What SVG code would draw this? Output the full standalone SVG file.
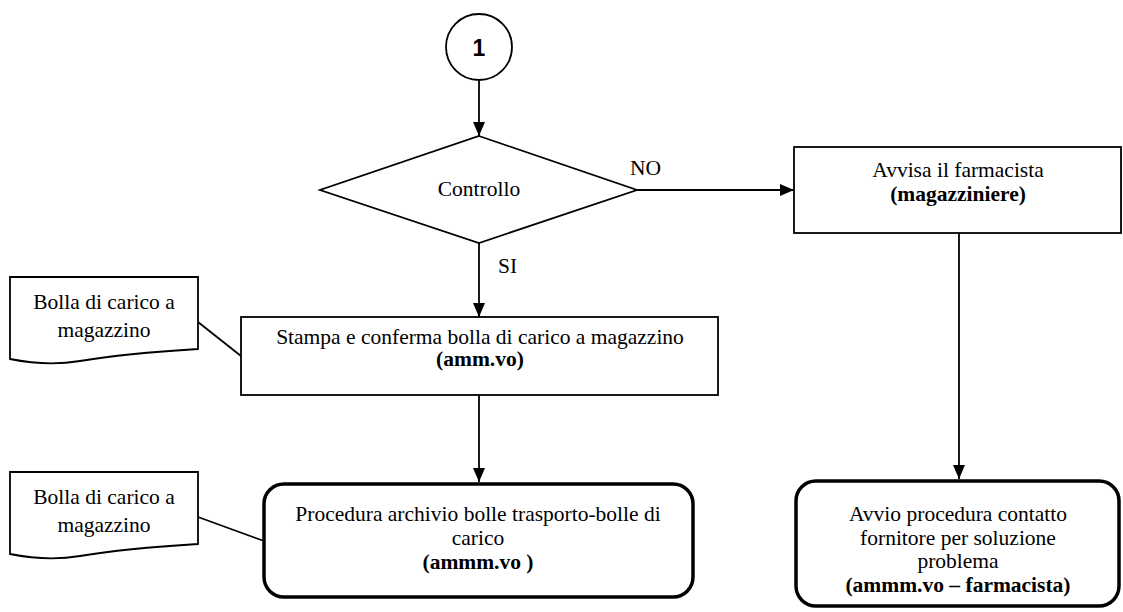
<svg xmlns="http://www.w3.org/2000/svg" width="1123" height="612" viewBox="0 0 1123 612">
<style>
.s{fill:#fff;stroke:#000;stroke-width:1.8}
.r{fill:#fff;stroke:#000;stroke-width:3.5}
.c{fill:none;stroke:#000;stroke-width:1.8}
.t{font-size:21.5px;fill:#000;text-anchor:middle}
.b{font-weight:bold}
.l{font-size:21.5px;fill:#000}
</style>
<defs>
<marker id="ah" markerWidth="14" markerHeight="12" refX="14" refY="6" orient="auto" markerUnits="userSpaceOnUse">
<path d="M0,0 L14,6 L0,12 Z" fill="#000"/>
</marker>
</defs>
<g font-family="'Liberation Serif', 'Times New Roman', 'DejaVu Serif', serif">
<g id="connectors">
<line class="c" x1="479" y1="79" x2="479" y2="136" marker-end="url(#ah)"/>
<line class="c" x1="637" y1="190" x2="794" y2="190" marker-end="url(#ah)"/>
<line class="c" x1="479" y1="243" x2="479" y2="317" marker-end="url(#ah)"/>
<line class="c" x1="479" y1="395" x2="479" y2="482" marker-end="url(#ah)"/>
<line class="c" x1="959" y1="233" x2="959" y2="479" marker-end="url(#ah)"/>
<line class="c" x1="198" y1="322" x2="241" y2="356"/>
<line class="c" x1="198" y1="517" x2="264" y2="541"/>
<text class="l" x="630" y="175">NO</text>
<text class="l" x="498" y="273">SI</text>
</g>
<g id="start">
<circle class="s" cx="479" cy="47" r="33"/>
<text x="479" y="56" font-family="'Liberation Sans', Arial, sans-serif" font-size="23" font-weight="bold" text-anchor="middle">1</text>
</g>
<g id="controllo">
<polygon class="s" points="479,136 637,190 479,243 320,190"/>
<text class="t" x="479" y="196">Controllo</text>
</g>
<g id="avvisa">
<rect class="s" x="794" y="147" width="327" height="86"/>
<text class="t" x="958" y="177">Avvisa il farmacista</text>
<text class="t b" x="958" y="201">(magazziniere)</text>
</g>
<g id="stampa">
<rect class="s" x="241" y="317" width="477" height="78"/>
<text class="t" x="480" y="344">Stampa e conferma bolla di carico a magazzino</text>
<text class="t b" x="480" y="366">(amm.vo)</text>
</g>
<g id="procedura">
<rect class="r" x="264" y="484" width="429" height="113" rx="20" ry="20"/>
<text class="t" x="478" y="521">Procedura archivio bolle trasporto-bolle di</text>
<text class="t" x="478" y="545">carico</text>
<text class="t b" x="478" y="569">(ammm.vo )</text>
</g>
<g id="avvio">
<rect class="r" x="796" y="481" width="323" height="125" rx="20" ry="20"/>
<text class="t" x="958" y="521">Avvio procedura contatto</text>
<text class="t" x="958" y="545">fornitore per soluzione</text>
<text class="t" x="958" y="568">problema</text>
<text class="t b" x="958" y="592">(ammm.vo – farmacista)</text>
</g>
<g id="doc1">
<path class="s" d="M10,277 H198 V349 C150,352 110,356 80,361 C50,366 25,362 10,359 Z"/>
<text class="t" x="104" y="309">Bolla di carico a</text>
<text class="t" x="104" y="337">magazzino</text>
</g>
<g id="doc2">
<path class="s" d="M10,472 H198 V544 C150,547 110,551 80,556 C50,561 25,557 10,554 Z"/>
<text class="t" x="104" y="504">Bolla di carico a</text>
<text class="t" x="104" y="532">magazzino</text>
</g>
</g>
</svg>
